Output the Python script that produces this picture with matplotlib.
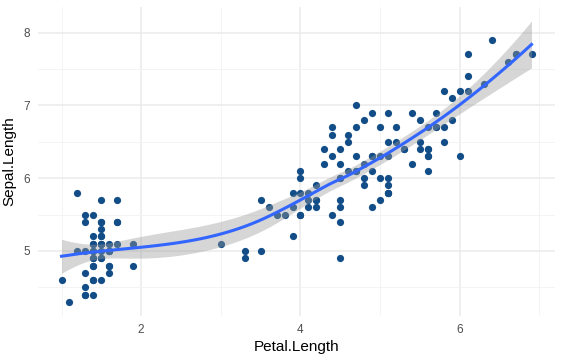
import matplotlib
matplotlib.use("Agg")
import matplotlib.pyplot as plt
import numpy as np

# iris: Petal.Length and Sepal.Length
petal_length = [
    1.4, 1.4, 1.3, 1.5, 1.4, 1.7, 1.4, 1.5, 1.4, 1.5,
    1.5, 1.6, 1.4, 1.1, 1.2, 1.5, 1.3, 1.4, 1.7, 1.5,
    1.7, 1.5, 1.0, 1.7, 1.9, 1.6, 1.6, 1.5, 1.4, 1.6,
    1.6, 1.5, 1.5, 1.4, 1.5, 1.2, 1.3, 1.4, 1.3, 1.5,
    1.3, 1.3, 1.3, 1.6, 1.9, 1.4, 1.6, 1.4, 1.5, 1.4,
    4.7, 4.5, 4.9, 4.0, 4.6, 4.5, 4.7, 3.3, 4.6, 3.9,
    3.5, 4.2, 4.0, 4.7, 3.6, 4.4, 4.5, 4.1, 4.5, 3.9,
    4.8, 4.0, 4.9, 4.7, 4.3, 4.4, 4.8, 5.0, 4.5, 3.5,
    3.8, 3.7, 3.9, 5.1, 4.5, 4.5, 4.7, 4.4, 4.1, 4.0,
    4.4, 4.6, 4.0, 3.3, 4.2, 4.2, 4.2, 4.3, 3.0, 4.1,
    6.0, 5.1, 5.9, 5.6, 5.8, 6.6, 4.5, 6.3, 5.8, 6.1,
    5.1, 5.3, 5.5, 5.0, 5.1, 5.3, 5.5, 6.7, 6.9, 5.0,
    5.7, 4.9, 6.7, 4.9, 5.7, 6.0, 4.8, 4.9, 5.6, 5.8,
    6.1, 6.4, 5.6, 5.1, 5.6, 6.1, 5.6, 5.5, 4.8, 5.4,
    5.6, 5.1, 5.1, 5.9, 5.7, 5.2, 5.0, 5.2, 5.4, 5.1,
]
sepal_length = [
    5.1, 4.9, 4.7, 4.6, 5.0, 5.4, 4.6, 5.0, 4.4, 4.9,
    5.4, 4.8, 4.8, 4.3, 5.8, 5.7, 5.4, 5.1, 5.7, 5.1,
    5.4, 5.1, 4.6, 5.1, 4.8, 5.0, 5.0, 5.2, 5.2, 4.7,
    4.8, 5.4, 5.2, 5.5, 4.9, 5.0, 5.5, 4.9, 4.4, 5.1,
    5.0, 4.5, 4.4, 5.0, 5.1, 4.8, 5.1, 4.6, 5.3, 5.0,
    7.0, 6.4, 6.9, 5.5, 6.5, 5.7, 6.3, 4.9, 6.6, 5.2,
    5.0, 5.9, 6.0, 6.1, 5.6, 6.7, 5.6, 5.8, 6.2, 5.6,
    5.9, 6.1, 6.3, 6.1, 6.4, 6.6, 6.8, 6.7, 6.0, 5.7,
    5.5, 5.5, 5.8, 6.0, 5.4, 6.0, 6.7, 6.3, 5.6, 5.5,
    5.5, 6.1, 5.8, 5.0, 5.6, 5.7, 5.7, 6.2, 5.1, 5.7,
    6.3, 5.8, 7.1, 6.3, 6.5, 7.6, 4.9, 7.3, 6.7, 7.2,
    6.5, 6.4, 6.8, 5.7, 5.8, 6.4, 6.5, 7.7, 7.7, 6.0,
    6.9, 5.6, 7.7, 6.3, 6.7, 7.2, 6.2, 6.1, 6.4, 7.2,
    7.4, 7.9, 6.4, 6.3, 6.1, 7.7, 6.3, 6.4, 6.0, 6.9,
    6.7, 6.9, 5.8, 6.8, 6.7, 6.7, 6.3, 6.5, 6.2, 5.9,
]

x = np.array(petal_length)
y = np.array(sepal_length)
n = len(x)
span = 0.75


# local quadratic fit at x0 -> operator rows for value and slope
def local_rows(x0):
    q = int(np.floor(n * span))
    d = np.abs(x - x0)
    h = np.sort(d)[q - 1]
    w = np.clip(1 - (d / h) ** 3, 0, None) ** 3
    X = np.column_stack([np.ones(n), x - x0, (x - x0) ** 2])
    XtW = X.T * w
    B = np.linalg.solve(XtW @ X, XtW)
    return B[0], B[1]


# kd-tree vertices as in R's loess (surface = "interpolate", cell = 0.2)
xs_sorted = np.sort(x)
fc = int(np.floor(n * span * 0.2))
mu = 0.005 * (x.max() - x.min())
verts = [x.min() - mu, x.max() + mu]


def build(l, u, vl, vu):
    if u - l + 1 <= fc:
        return
    m = (l + u + 2) // 2 - 1
    off = 0
    while l <= m + off < u:
        if xs_sorted[m + off] == xs_sorted[m + off + 1]:
            off = -off
            if off >= 0:
                off += 1
        else:
            m = m + off
            break
    v = xs_sorted[m]
    if v == vl or v == vu:
        return
    verts.append(v)
    build(l, m, vl, v)
    build(m + 1, u, v, vu)


build(0, n - 1, verts[0], verts[1])
verts = np.array(sorted(verts))
vrows = [local_rows(v) for v in verts]


# cubic hermite interpolation between vertices
def interp_rows(xq):
    out = []
    for x0 in xq:
        i = min(np.searchsorted(verts, x0, side="right") - 1, len(verts) - 2)
        a, b = verts[i], verts[i + 1]
        hh = b - a
        t = (x0 - a) / hh
        p0 = (1 - t) ** 2 * (1 + 2 * t)
        p1 = t ** 2 * (3 - 2 * t)
        s0 = t * (1 - t) ** 2
        s1 = -t ** 2 * (1 - t)
        out.append(p0 * vrows[i][0] + p1 * vrows[i + 1][0]
                   + hh * (s0 * vrows[i][1] + s1 * vrows[i + 1][1]))
    return np.array(out)


L = interp_rows(x)
M = np.eye(n) - L
delta1 = np.trace(M.T @ M)
s = np.sqrt(np.sum((M @ y) ** 2) / delta1)

xs = np.linspace(x.min(), x.max(), 80)
Ls = interp_rows(xs)
fit = Ls @ y
se = s * np.sqrt(np.sum(Ls ** 2, axis=1))
tq = 1.977
lo, hi = fit - tq * se, fit + tq * se

fig = plt.figure(figsize=(5.63, 3.62), dpi=100)
ax = fig.add_axes([38 / 563, 46 / 362, 517 / 563, 309 / 362])

ax.scatter(x, y, s=27, color="#134D87", linewidths=0, zorder=2)
ax.fill_between(xs, lo, hi, color="#999999", alpha=0.4, linewidth=0, zorder=3)
ax.plot(xs, fit, color="#3366FF", lw=2.2, zorder=4)

xr = x.max() - x.min()
ax.set_xlim(x.min() - 0.05 * xr, x.max() + 0.05 * xr)
ymin = min(y.min(), lo.min())
ymax = max(y.max(), hi.max())
yr = ymax - ymin
ax.set_ylim(ymin - 0.05 * yr, ymax + 0.05 * yr)

ax.set_xticks([2, 4, 6])
ax.set_yticks([5, 6, 7, 8])
ax.set_xticks([1, 3, 5, 7], minor=True)
ax.set_yticks([4.5, 5.5, 6.5, 7.5], minor=True)
ax.grid(True, which="major", color="#EBEBEB", lw=1.1)
ax.grid(True, which="minor", color="#F3F3F3", lw=0.6)
ax.set_axisbelow(True)
for sp in ax.spines.values():
    sp.set_visible(False)
ax.tick_params(which="both", length=0, labelsize=8.5, labelcolor="#4D4D4D", pad=6)
for lab in ax.get_xticklabels() + ax.get_yticklabels():
    lab.set_family("Liberation Sans")

ax.set_xlabel("Petal.Length", fontsize=11, labelpad=3, family="Liberation Sans")
ax.set_ylabel("Sepal.Length", fontsize=11, labelpad=5, family="Liberation Sans")

fig.savefig("out.png", dpi=100)
